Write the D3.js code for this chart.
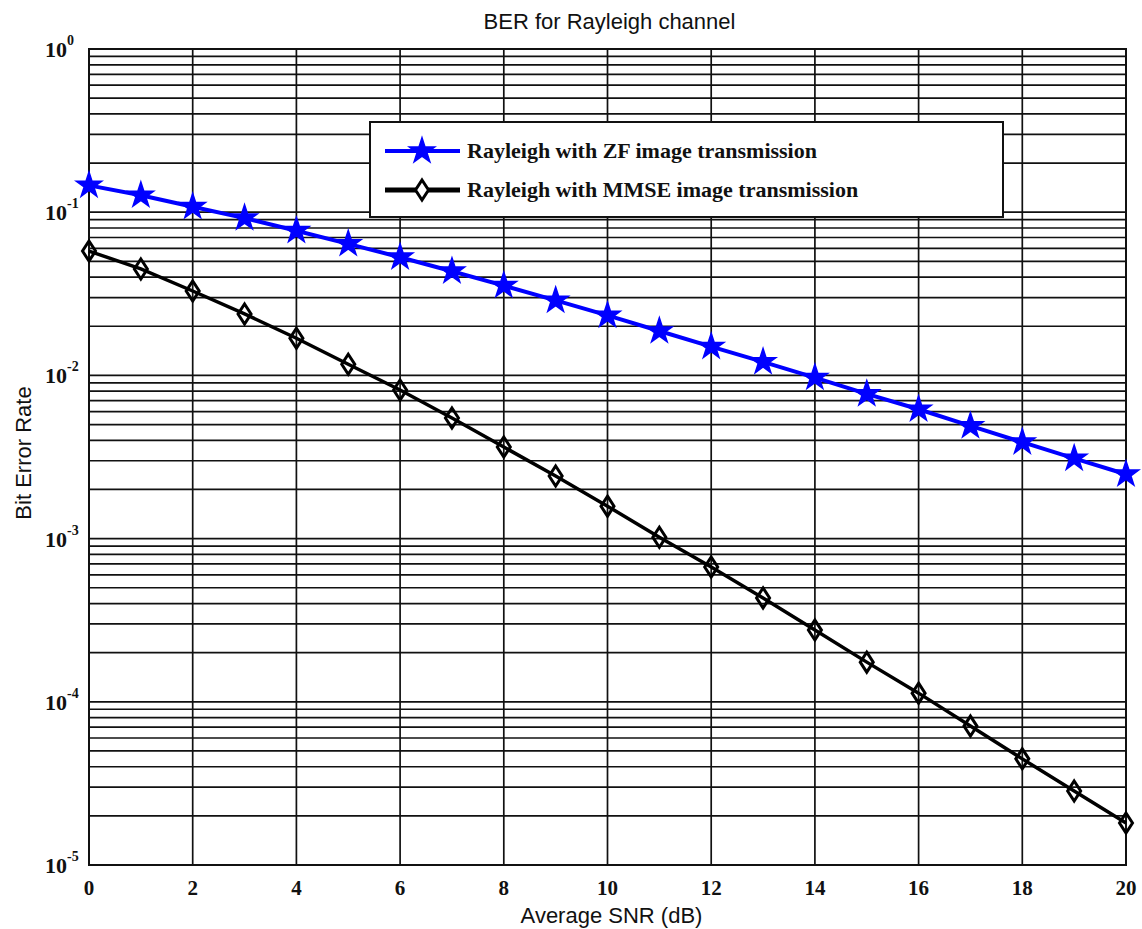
<!DOCTYPE html>
<html>
<head>
<meta charset="utf-8">
<script src="https://cdn.jsdelivr.net/npm/d3@7"></script>
<style>
  body { margin: 0; background: #fff; }
  .title, .axis-label { font-family: Arial, "Liberation Sans", sans-serif; font-size: 22px; fill: #111; }
  .tick-lbl { font-family: "Liberation Serif", "Times New Roman", serif; font-weight: bold; fill: #111; }
  .legend-text { font-family: "Liberation Serif", "Times New Roman", serif; font-weight: bold; font-size: 22px; fill: #111; }
</style>
</head>
<body>
<svg id="chart" width="1142" height="929"></svg>
<script>
// SETUP: dimensions
const margin = { top: 49, right: 16, bottom: 64, left: 89 },
      width = 1142 - margin.left - margin.right,
      height = 929 - margin.top - margin.bottom;

// DATA
const snr = [0, 1, 2, 3, 4, 5, 6, 7, 8, 9, 10, 11, 12, 13, 14, 15, 16, 17, 18, 19, 20];
const berZF = [0.146, 0.127, 0.108, 0.092, 0.077, 0.064, 0.053, 0.0435, 0.0355, 0.0288, 0.0233,
               0.0187, 0.0150, 0.0121, 0.0097, 0.0077, 0.0062, 0.0049, 0.0039, 0.0031, 0.00248];
const berMMSE = [0.0578, 0.0449, 0.0329, 0.0238, 0.0169, 0.0117, 0.00814, 0.00548, 0.00364, 0.00242, 0.00158,
                 0.00102, 0.00067, 0.000433, 0.000275, 0.000175, 0.000113, 7.1e-5, 4.47e-5, 2.84e-5, 1.81e-5];
const xTicks = [0, 2, 4, 6, 8, 10, 12, 14, 16, 18, 20];
const yExponents = [0, -1, -2, -3, -4, -5];
const legendLabels = ["Rayleigh with ZF image transmission", "Rayleigh with MMSE image transmission"];

const svg = d3.select("#chart")
  .append("g")
  .attr("transform", `translate(${margin.left},${margin.top})`);

// SCALES
const x = d3.scaleLinear().domain([0, 20]).range([0, width]);
const y = d3.scaleLog().domain([1e-5, 1]).range([height, 0]);

// GRID: vertical
svg.append("g")
  .selectAll("line")
  .data(xTicks)
  .join("line")
  .attr("x1", d => x(d)).attr("x2", d => x(d))
  .attr("y1", 0).attr("y2", height)
  .attr("stroke", "#111").attr("stroke-width", 1.7);

// GRID: horizontal (log minor lines)
const logLines = [];
for (let e = -5; e < 0; e++) {
  for (let m = 1; m <= 9; m++) logLines.push(m * Math.pow(10, e));
}
logLines.push(1);
svg.append("g")
  .selectAll("line")
  .data(logLines)
  .join("line")
  .attr("x1", 0).attr("x2", width)
  .attr("y1", d => y(d)).attr("y2", d => y(d))
  .attr("stroke", "#111").attr("stroke-width", 1.7);

// AXIS BOX
svg.append("rect")
  .attr("width", width).attr("height", height)
  .attr("fill", "none").attr("stroke", "#111").attr("stroke-width", 2);

// X TICK LABELS
svg.append("g")
  .selectAll("text")
  .data(xTicks)
  .join("text")
  .attr("class", "tick-lbl")
  .attr("x", d => x(d))
  .attr("y", height + 30)
  .attr("text-anchor", "middle")
  .style("font-size", "21px")
  .text(d => d);

// Y TICK LABELS (10^n)
const yl = svg.append("g")
  .selectAll("text")
  .data(yExponents)
  .join("text")
  .attr("class", "tick-lbl")
  .attr("x", -44)
  .attr("y", d => y(Math.pow(10, d)) + 8)
  .style("font-size", "22px");
yl.append("tspan").text("10");
yl.append("tspan")
  .attr("dy", -12)
  .style("font-size", "14px")
  .text(d => d);

// LINES
const line = d3.line().x((d, i) => x(snr[i])).y(d => y(d));

svg.append("path")
  .datum(berZF)
  .attr("d", line)
  .attr("fill", "none")
  .attr("stroke", "#0000ff")
  .attr("stroke-width", 4);

svg.append("path")
  .datum(berMMSE)
  .attr("d", line)
  .attr("fill", "none")
  .attr("stroke", "#000")
  .attr("stroke-width", 3.5);

// MARKERS
const star = d3.symbol().type(d3.symbolStar).size(200);
const diamondPath = "M0,-10L6.5,0L0,10L-6.5,0Z";

svg.append("g")
  .selectAll("path")
  .data(berZF)
  .join("path")
  .attr("d", star)
  .attr("transform", (d, i) => `translate(${x(snr[i])},${y(d)})`)
  .attr("fill", "#0000ff")
  .attr("stroke", "#0000ff")
  .attr("stroke-width", 1.5);

svg.append("g")
  .selectAll("path")
  .data(berMMSE)
  .join("path")
  .attr("d", diamondPath)
  .attr("transform", (d, i) => `translate(${x(snr[i])},${y(d)})`)
  .attr("fill", "none")
  .attr("stroke", "#000")
  .attr("stroke-width", 3);

// LEGEND
const leg = svg.append("g").attr("transform", `translate(${370 - margin.left},${122 - margin.top})`);
leg.append("rect")
  .attr("width", 633).attr("height", 95)
  .attr("fill", "#fff").attr("stroke", "#111").attr("stroke-width", 2);

const legColors = ["#0000ff", "#000"];
legendLabels.forEach((lab, i) => {
  const ly = 29 + i * 39;
  leg.append("line")
    .attr("x1", 15).attr("x2", 90)
    .attr("y1", ly).attr("y2", ly)
    .attr("stroke", legColors[i]).attr("stroke-width", i === 0 ? 4 : 5);
  if (i === 0) {
    leg.append("path").attr("d", star)
      .attr("transform", `translate(52,${ly})`)
      .attr("fill", "#0000ff").attr("stroke", "#0000ff").attr("stroke-width", 1.5);
  } else {
    leg.append("path").attr("d", diamondPath)
      .attr("transform", `translate(52,${ly})`)
      .attr("fill", "#fff").attr("stroke", "#000").attr("stroke-width", 3);
  }
  leg.append("text")
    .attr("class", "legend-text")
    .attr("x", 97).attr("y", ly + 7)
    .text(lab);
});

// TITLE AND AXIS LABELS
svg.append("text")
  .attr("class", "title")
  .attr("x", width / 2 + 2)
  .attr("y", -20)
  .attr("text-anchor", "middle")
  .text("BER for Rayleigh channel");

svg.append("text")
  .attr("class", "axis-label")
  .attr("x", width / 2 + 4)
  .attr("y", height + 58)
  .attr("text-anchor", "middle")
  .text("Average SNR (dB)");

svg.append("text")
  .attr("class", "axis-label")
  .attr("transform", "rotate(-90)")
  .attr("x", -height / 2 + 4)
  .attr("y", -margin.left + 31)
  .attr("text-anchor", "middle")
  .text("Bit Error Rate");
</script>
</body>
</html>
